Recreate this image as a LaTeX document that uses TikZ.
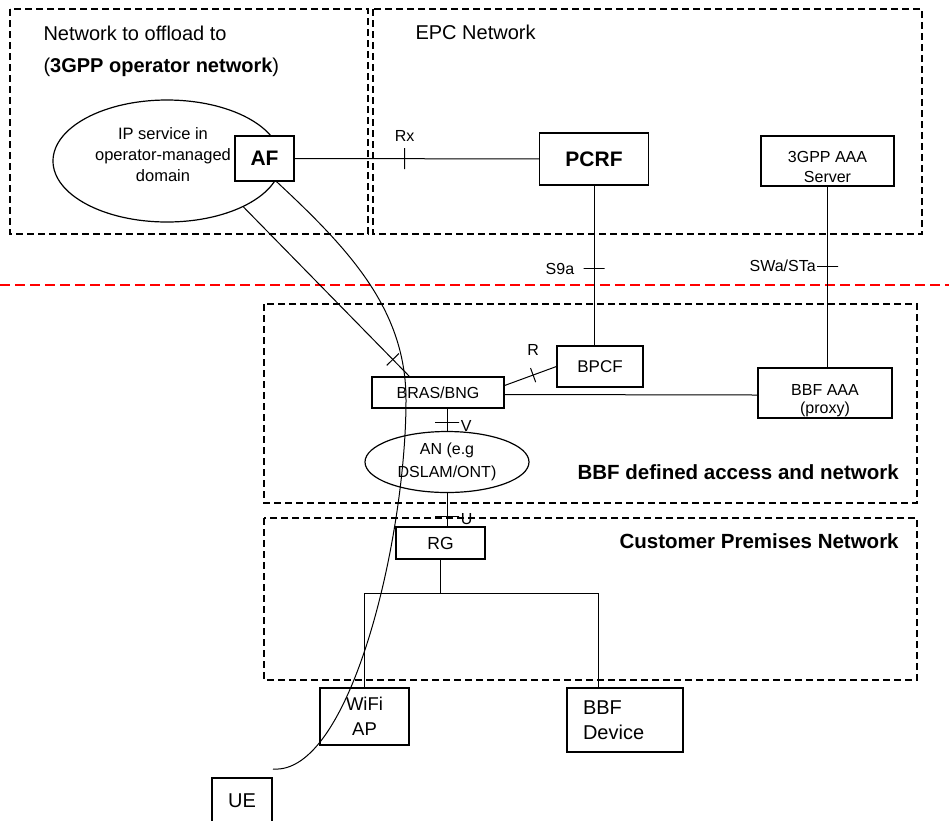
\documentclass[tikz,border=0pt]{standalone}
\usepackage{fontspec}
\setmainfont{Liberation Sans}
\usepackage{xcolor}
\usetikzlibrary{shapes.geometric}

\begin{document}
\begin{tikzpicture}[x=1pt,y=-1pt,
    font=\fontsize{16}{18}\selectfont,
    box/.style={draw,line width=1.2pt,fill=white,inner sep=0pt,align=center},
    frame/.style={draw,line width=1.1pt,dash pattern=on 7pt off 4pt},
    link/.style={line width=1pt},
    iface/.style={draw,sloped,line width=1pt,minimum width=0pt,minimum height=21pt,inner sep=0pt},
    title/.style={anchor=base west,font=\fontsize{20}{24}\selectfont}]
    \def\bigbold{\fontsize{20.5}{24}\selectfont\bfseries}
    \useasboundingbox (0,0) rectangle (949,820);
    % Domain frames
    \draw[frame] (10,9) rectangle (368,234);
    \draw[frame] (373,9) rectangle (922,234);
    \draw[frame] (264,304) rectangle (917,503);
    \draw[frame] (264,518) rectangle (917,680);
    % 3GPP / BBF border
    \draw[red,line width=1.8pt,dash pattern=on 10pt off 5pt] (0,285) -- (949,285);
    % Frame titles
    \node[title] (offload) at (40,40) {Network to offload to};
    \node[title] (offloadop) at (40,72) {(\textbf{3GPP operator network})};
    \node[title] (epc) at (412,39) {EPC Network};
    \node[title,font=\bigbold] (bbfnet) at (574,479) {BBF defined access and network};
    \node[title,font=\bigbold] (cpn) at (616,548) {Customer Premises Network};
    % IP service in operator-managed domain
    \node[draw,ellipse,line width=1.2pt,minimum width=228,minimum height=122,inner sep=0pt] (ipsvc) at (167,161) {};
    \node[align=center,font=\fontsize{16.5}{21}\selectfont] (ipsvctxt) at (163,155) {IP service in\\operator-managed\\domain};
    % AF
    \node[box,font=\fontsize{21}{24}\selectfont\bfseries,minimum width=59,minimum height=45] (af) at (264.5,158.5) {AF};
    % PCRF
    \node[box,font=\fontsize{21}{24}\selectfont\bfseries,minimum width=109,minimum height=52] (pcrf) at (594,159) {PCRF};
    % 3GPP AAA Server
    \node[box,minimum width=133,minimum height=50] (aaa) at (827.5,161) {};
    \node[align=center,font=\fontsize{16}{20}\selectfont] (aaatxt) at (827.5,167) {3GPP AAA\\Server};
    % BPCF
    \node[box,font=\fontsize{17}{20}\selectfont,minimum width=86,minimum height=41] (bpcf) at (600,366.5) {BPCF};
    % BRAS/BNG
    \node[box,minimum width=132,minimum height=31] (bras) at (438,392.5) {BRAS/BNG};
    % BBF AAA (proxy)
    \node[box,minimum width=134,minimum height=50] (bbfaaa) at (825,393) {};
    \node[align=center,font=\fontsize{16}{18}\selectfont] (bbfaaatxt) at (825,401) {BBF AAA\\(proxy)};
    % AN
    \node[draw,ellipse,line width=1.2pt,minimum width=164,minimum height=61,inner sep=0pt,align=center,
      font=\fontsize{16}{23}\selectfont] (an) at (447,462) {AN (e.g\\DSLAM/ONT)};
    % RG
    \node[box,font=\fontsize{17.5}{20}\selectfont,minimum width=89,minimum height=32] (rg) at (440.5,543) {RG};
    % WiFi AP
    \node[box,font=\fontsize{18.5}{25}\selectfont,minimum width=89,minimum height=57] (wifi) at (364.5,716.5) {WiFi\\AP};
    % BBF Device
    \node[box,font=\fontsize{20}{25}\selectfont,align=left,text width=84,inner xsep=16,minimum height=64] (dev) at (625,720) {BBF\\Device};
    % UE
    \node[box,font=\fontsize{20}{24}\selectfont,minimum width=60,minimum height=46] (ue) at (242,801) {UE};
    % Reference points
    \draw[link] (af) -- node[iface,pos=0.45]{} node[pos=0.45,yshift=23]{Rx} (pcrf);
    \draw[link] (pcrf) -- node[iface,pos=0.52]{} node[pos=0.52,anchor=east,xshift=-16]{S9a} (pcrf |- bpcf.north);
    \draw[link] (aaa) -- node[iface,pos=0.44]{} node[pos=0.44,anchor=east,xshift=-8]{SWa/STa} (aaa |- bbfaaa.north);
    \draw[link] ([yshift=7]bras.east) -- node[iface,pos=0.55,minimum height=15]{} node[pos=0.55,yshift=25]{R} (bpcf.west);
    \draw[link] ([yshift=-2]bras.east) -- ([yshift=-2]bbfaaa.west);
    \draw[link] (ipsvc.-31) -- node[iface,pos=0.9,minimum height=17]{} ([xshift=38]bras.north west);
    \draw[link] (an) -- node[iface,pos=0.375,minimum height=24]{} node[pos=0.375,anchor=west,xshift=10,yshift=-3]{V} (an |- bras.south);
    \draw[link] (an) -- node[iface,pos=0.7,minimum height=24]{} node[pos=0.7,anchor=west,xshift=10,yshift=-3]{U} (an |- rg.north);
    % Home network bus
    \coordinate (busl) at (364,593);
    \coordinate (busr) at (598,593);
    \draw[link] (rg) -- (rg |- busl);
    \draw[link] (busl) -- (busr);
    \draw[link] (busl) -- (busl |- wifi.north);
    \draw[link] (busr) -- (busr |- dev.north);
    % UE traffic path
    \coordinate (uetip) at (273,769);
    \draw[link] ([xshift=12]af.south) .. controls (350,250) and (406,310) .. (406,400)
      .. controls (406,540) and (350,775) .. (uetip);
\end{tikzpicture}
\end{document}
